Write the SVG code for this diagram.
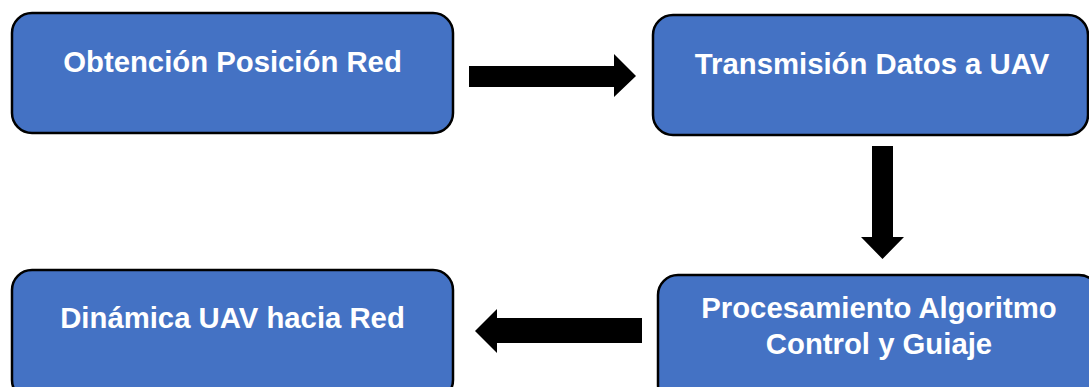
<svg xmlns="http://www.w3.org/2000/svg" width="1089" height="387" viewBox="0 0 1089 387">
  <style>
    .box { fill: #4472C4; stroke: #000; stroke-width: 2.5; }
    .label { font-family: "Liberation Sans", Arial, sans-serif; font-weight: bold; font-size: 29.3px; fill: #fff; text-anchor: middle; }
    .arrow { fill: #000; }
  </style>
  <rect width="1089" height="387" fill="#fff"/>

  <g id="node-obtencion">
    <rect class="box" x="12" y="13" width="441" height="120" rx="20" ry="20"/>
    <text class="label" x="232.5" y="72">Obtención Posición Red</text>
  </g>

  <g id="node-transmision">
    <rect class="box" x="653" y="15" width="435" height="120" rx="20" ry="20"/>
    <text class="label" x="872" y="74">Transmisión Datos a UAV</text>
  </g>

  <g id="node-procesamiento">
    <rect class="box" x="658" y="275" width="441" height="130" rx="20" ry="20"/>
    <text class="label" x="879" y="318">Procesamiento Algoritmo</text>
    <text class="label" x="879" y="354">Control y Guiaje</text>
  </g>

  <g id="node-dinamica">
    <rect class="box" x="12" y="270" width="441" height="130" rx="20" ry="20"/>
    <text class="label" x="232.5" y="328">Dinámica UAV hacia Red</text>
  </g>

  <g id="connectors">
    <!-- right: Obtención -> Transmisión -->
    <polygon class="arrow" points="469,66 614,66 614,54 636,76 614,97 614,87 469,87"/>
    <!-- down: Transmisión -> Procesamiento -->
    <polygon class="arrow" points="872,146 893,146 893,237 904,237 882.5,259 861,237 872,237"/>
    <!-- left: Procesamiento -> Dinámica -->
    <polygon class="arrow" points="642,318 497,318 497,309 475,331 497,353 497,343 642,343"/>
  </g>
</svg>
